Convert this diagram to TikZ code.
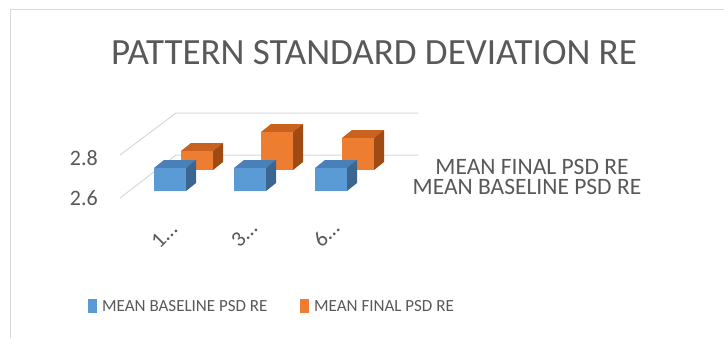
\documentclass[tikz,border=0pt]{standalone}
\usepackage{fontspec}
\setmainfont{Carlito}
\definecolor{txt}{HTML}{595959}
\definecolor{grid}{HTML}{D9D9D9}
\definecolor{frame}{HTML}{D9D9D9}
\definecolor{bfront}{HTML}{5B9BD5}
\definecolor{btop}{HTML}{4A80B8}
\definecolor{bside}{HTML}{3A6690}
\definecolor{ofront}{HTML}{ED7D31}
\definecolor{otop}{HTML}{C9621F}
\definecolor{oside}{HTML}{A04B14}
\newcommand{\mycuboid}[7]{%
  % #1 x0, #2 ytop, #3 x1, #4 ybottom, #5 front, #6 top, #7 side
  \fill[#6] (#1,#2) -- ++(10,-8) -- (#3+10,#2-8) -- (#3,#2) -- cycle;
  \fill[#7] (#3,#2) -- (#3+10,#2-8) -- (#3+10,#4-8) -- (#3,#4) -- cycle;
  \fill[#5] (#1,#2) rectangle (#3,#4);
}
\tikzset{
  gridline/.style={draw=grid, line width=1pt},
  ticklbl/.style={text=txt, font=\fontsize{22}{24}\selectfont, anchor=east, inner sep=0pt},
  catlbl/.style={text=txt, font=\fontsize{22}{24}\selectfont, rotate=45, inner sep=0pt},
  serlbl/.style={text=txt, font=\fontsize{23.5}{25}\selectfont, inner sep=0pt},
  leglbl/.style={text=txt, font=\fontsize{17}{19}\selectfont, anchor=west, inner sep=0pt},
}
\begin{document}
\begin{tikzpicture}[x=1pt,y=-1pt]
\useasboundingbox (0,0) rectangle (724,338);
\fill[white] (0,0) rectangle (724,338);
% chart frame
\draw[draw=frame, line width=1.6pt] (10.5,338) -- (10.5,9.5) -- (724,9.5);
% title
\node[text=txt, font=\fontsize{37}{40}\selectfont, inner sep=0pt] (title) at (374,53) {PATTERN STANDARD DEVIATION RE};
% gridlines
\draw[gridline] (120,155) -- (176,113) -- (418,113);
\draw[gridline] (120,198) -- (176,155) -- (418,155);
% tick labels
\node[ticklbl] (t28) at (98,158) {2.8};
\node[ticklbl] (t26) at (98,198) {2.6};
% orange (final) boxes
\mycuboid{181}{151}{213}{170}{ofront}{otop}{oside}
\mycuboid{261}{132}{293}{170}{ofront}{otop}{oside}
\mycuboid{342}{138}{374}{170}{ofront}{otop}{oside}
% blue (baseline) boxes
\mycuboid{154}{168}{186}{191}{bfront}{btop}{bside}
\mycuboid{234}{168}{266}{191}{bfront}{btop}{bside}
\mycuboid{315}{168}{347}{191}{bfront}{btop}{bside}
% category labels
\node[catlbl] (c1) at (164,235) {1…};
\node[catlbl] (c3) at (244,234) {3…};
\node[catlbl] (c6) at (326,234) {6…};
% series labels
\node[serlbl] (sfinal) at (532,167) {MEAN FINAL PSD RE};
\node[serlbl] (sbase) at (527,187) {MEAN BASELINE PSD RE};
% legend
\fill[bfront] (88,299) rectangle (97,313);
\node[leglbl] (lbase) at (102,306) {MEAN BASELINE PSD RE};
\fill[ofront] (300,299) rectangle (309,313);
\node[leglbl] (lfinal) at (314,306) {MEAN FINAL PSD RE};
\end{tikzpicture}
\end{document}
